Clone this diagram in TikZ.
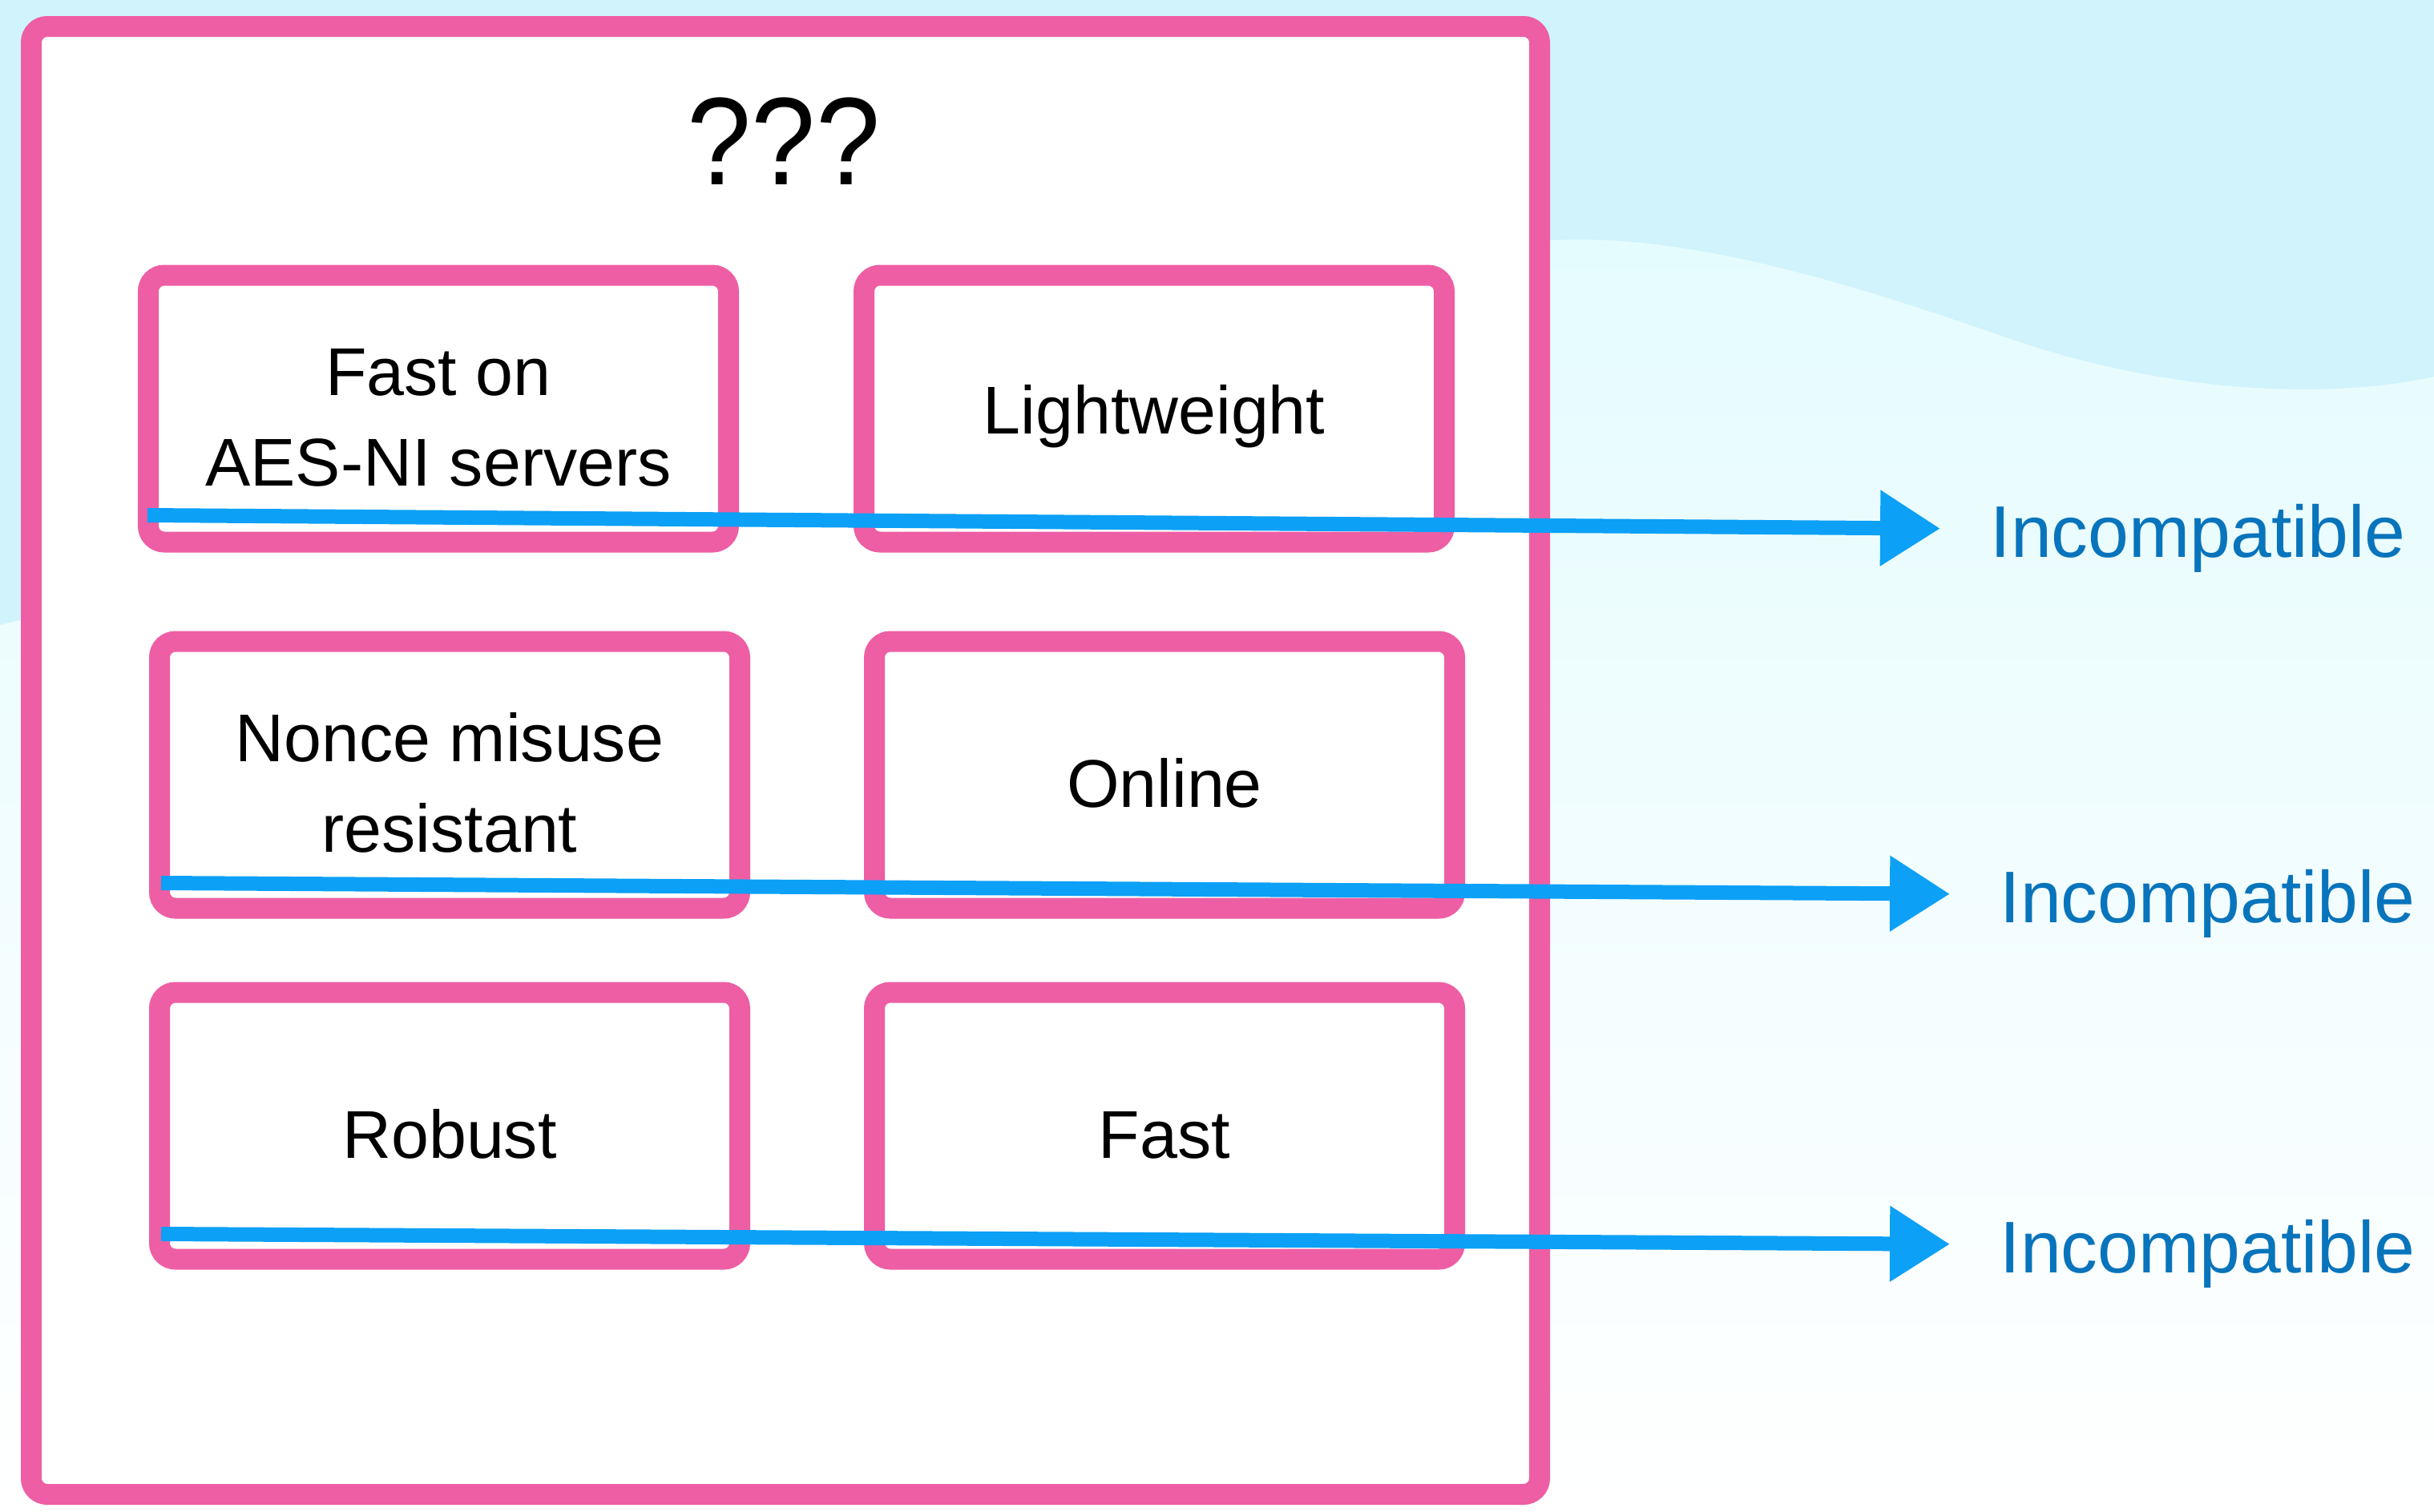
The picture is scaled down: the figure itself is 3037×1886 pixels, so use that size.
\documentclass[tikz,border=0pt]{standalone}
\usepackage{fontspec}
\setmainfont{Liberation Sans}
\usetikzlibrary{arrows.meta}
\definecolor{mypink}{RGB}{238,94,164}
\definecolor{myblue}{RGB}{12,160,246}
\definecolor{mydarkblue}{RGB}{8,116,188}
\definecolor{mysky}{RGB}{208,243,252}
\definecolor{mylightsky}{RGB}{224,251,254}
\newcommand{\widthbox}{72.4mm}
\newcommand{\heightbox}{33.3mm}
\newcommand{\lift}{\rule{0pt}{23pt}}
\tikzset{
    frame/.style={draw=mypink, line width=2.6mm, rounded corners=2mm, fill=white},
    prop/.style={frame, minimum width=\widthbox, minimum height=\heightbox, align=center, inner sep=0pt,
        font=\fontsize{24}{32}\selectfont},
    clash/.style={draw=myblue, line width=1.8mm, shorten >=5.2mm, -{Triangle[length=7.5mm, width=9mm]}},
    verdict/.style={anchor=west, inner sep=1mm, text=mydarkblue, font=\fontsize{26}{30}\selectfont}
}

\begin{document}
\begin{tikzpicture}[x=0.1mm, y=-0.1mm]
    % backdrop
    \fill[top color=mylightsky, middle color=mylightsky!70!white, bottom color=white] (0,0) rectangle (3037,1886);
    \fill[mysky] (0,0) -- (3037,0) -- (3037,470)
        .. controls (2900,500) and (2700,490) .. (2500,420)
        .. controls (2300,350) and (2100,290) .. (1931,300)
        -- (0,780) -- cycle;

    \node[frame, minimum width=188.2mm, minimum height=183.2mm] (outer) at (980,949) {};
    \node[font=\fontsize{41}{48}\selectfont, yscale=1.08] (title) at (978,176) {???};

    \node[prop] (fastaes) at (547,510) {\lift Fast on\\AES-NI servers};
    \node[prop] (light) at (1440,510) {\lift Lightweight};
    \node[prop] (nonce) at (561,967) {\lift Nonce misuse\\resistant};
    \node[prop] (online) at (1453,967) {\lift Online};
    \node[prop] (robust) at (561,1405) {\lift Robust};
    \node[prop] (fast) at (1453,1405) {\lift Fast};

    \node[verdict] (inc1) at (2473,672) {Incompatible};
    \node[verdict] (inc2) at (2485,1128) {Incompatible};
    \node[verdict] (inc3) at (2485,1565) {Incompatible};

    \coordinate (s1) at (184,643);
    \coordinate (s2) at (201,1102);
    \coordinate (s3) at (201,1540);
    \draw[clash] (s1) -- ([yshift=1.2mm]inc1.west);
    \draw[clash] (s2) -- ([yshift=1.2mm]inc2.west);
    \draw[clash] (s3) -- ([yshift=1.2mm]inc3.west);
\end{tikzpicture}
\end{document}
